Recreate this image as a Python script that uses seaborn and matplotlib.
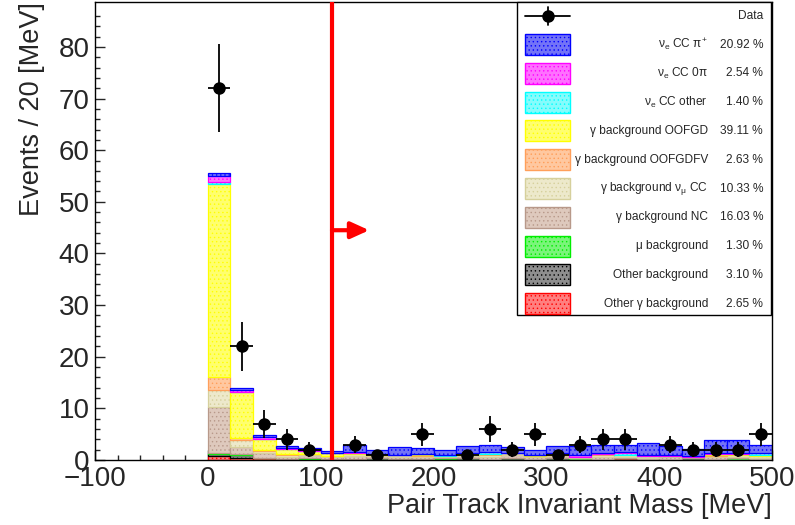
import numpy as np
import pandas as pd
import matplotlib
matplotlib.use("Agg")
import matplotlib.pyplot as plt
import matplotlib.colors as mcolors
from matplotlib.patches import Rectangle
from matplotlib.lines import Line2D
import seaborn as sns

# ---------------- data ----------------
bin_edges = np.arange(0, 520, 20)
bin_centers = bin_edges[:-1] + 10

components = [
    "ν$_{\\mathregular{e}}$ CC π$^{+}$",
    "ν$_{\\mathregular{e}}$ CC 0π",
    "ν$_{\\mathregular{e}}$ CC other",
    "γ background OOFGD",
    "γ background OOFGDFV",
    "γ background ν$_{\\mu}$ CC",
    "γ background NC",
    "μ background",
    "Other background",
    "Other γ background",
]
percents = ["20.92 %", "2.54 %", "1.40 %", "39.11 %", "2.63 %",
            "10.33 %", "16.03 %", "1.30 %", "3.10 %", "2.65 %"]

nue_cc_pip = [0.5, 0.4, 0.4, 0.3, 0.5, 0.5, 1.4, 0.7, 1.5, 1.2, 0.9, 1.3, 1.3,
              1.3, 0.9, 1.3, 1.8, 1.5, 1.4, 2.3, 1.7, 1.5, 2.5, 2.6, 1.5]
nue_cc_0pi = [1.2, 0.4, 0.35, 0.25, 0.1, 0.0, 0.2, 0.0, 0.0, 0.0, 0.0, 0.0, 0.0,
              0.0, 0.1, 0.0, 0.3, 0.2, 0.2, 0.2, 0.2, 0.2, 0.2, 0.2, 0.0]
nue_cc_other = [0.3, 0.1, 0.05, 0.05, 0.0, 0.0, 0.0, 0.0, 0.0, 0.0, 0.2, 0.1, 0.5,
                0.0, 0.0, 0.0, 0.0, 0.0, 0.3, 0.0, 0.0, 0.0, 0.0, 0.0, 0.4]
gamma_oofgd = [37.5, 8.9, 2.2, 1.0, 0.6, 0.5, 0.1, 0.2, 0.0, 0.1, 0.0, 0.2, 0.0,
               0.0, 0.2, 0.1, 0.0, 0.0, 0.1, 0.0, 0.0, 0.0, 0.2, 0.2, 0.3]
gamma_oofgdfv = [2.4, 0.3, 0.2, 0.1, 0.0, 0.0, 0.1, 0.0, 0.0, 0.2, 0.0, 0.0, 0.2,
                 0.0, 0.0, 0.3, 0.0, 0.3, 0.0, 0.0, 0.0, 0.0, 0.2, 0.0, 0.0]
gamma_numu_cc = [3.4, 1.3, 0.2, 0.4, 0.3, 0.3, 0.3, 0.2, 0.3, 0.2, 0.2, 0.3, 0.4,
                 0.3, 0.2, 0.2, 0.3, 0.3, 0.3, 0.3, 0.3, 0.0, 0.3, 0.3, 0.3]
gamma_nc = [8.9, 1.4, 1.0, 0.4, 0.5, 0.4, 0.6, 0.5, 0.5, 0.5, 0.3, 0.5, 0.5,
            0.6, 0.5, 0.4, 0.0, 0.6, 0.3, 0.4, 0.5, 0.2, 0.5, 0.3, 0.4]
mu_bkg = [0.2, 0.3, 0.05, 0.2, 0.2, 0.1, 0.2, 0.0, 0.15, 0.0, 0.15, 0.0, 0.0,
          0.0, 0.0, 0.0, 0.3, 0.0, 0.0, 0.0, 0.0, 0.0, 0.0, 0.3, 0.0]
other_bkg = [0.3, 0.6, 0.1, 0.0, 0.0, 0.0, 0.0, 0.3, 0.0, 0.0, 0.0, 0.3, 0.0,
             0.4, 0.0, 0.4, 0.0, 0.0, 0.0, 0.0, 0.0, 0.3, 0.0, 0.0, 0.0]
other_gamma_bkg = [0.8, 0.3, 0.3, 0.0, 0.2, 0.0, 0.0, 0.0, 0.0, 0.1, 0.15, 0.0, 0.0,
                   0.0, 0.0, 0.0, 0.0, 0.0, 0.3, 0.0, 0.0, 0.0, 0.0, 0.0, 0.0]

data_counts = [72, 22, 7, 4, 2, 0, 3, 1, 0, 5, 0, 1, 6, 2, 5, 1, 3, 4, 4, 0,
               3, 2, 2, 2, 5]

cut_value = 110
arrow_y = 44.5
arrow_end = 143

series = [nue_cc_pip, nue_cc_0pi, nue_cc_other, gamma_oofgd, gamma_oofgdfv,
          gamma_numu_cc, gamma_nc, mu_bkg, other_bkg, other_gamma_bkg]

line_colors = ["#0000ff", "#ff00ff", "#00ffff", "#ffff00", "#ff9f5a",
               "#d6d09c", "#b8998a", "#00ee00", "#000000", "#ff0000"]
fill_colors = ["#7373f7", "#ff70ff", "#85fcfc", "#ffff6e", "#ffc8a0",
               "#ede9cb", "#dec9bd", "#7af57a", "#8e8e8e", "#ff7f7f"]

# ---------------- style ----------------
sns.set_style("ticks")
plt.rcParams["font.family"] = ["Liberation Sans", "DejaVu Sans"]
plt.rcParams["mathtext.fontset"] = "custom"
plt.rcParams["mathtext.rm"] = "Liberation Sans"
plt.rcParams["mathtext.it"] = "Liberation Sans"
plt.rcParams["mathtext.bf"] = "Liberation Sans:bold"
plt.rcParams["hatch.linewidth"] = 0.5

fig = plt.figure(figsize=(7.95, 5.25), dpi=100)
ax = fig.add_axes([95 / 795, 65 / 525, 677 / 795, 458 / 525])

rows = []
for name, vals in zip(components, series):
    for c, v in zip(bin_centers, vals):
        rows.append({"mass": float(c), "weight": float(v), "component": name})
df = pd.DataFrame(rows)

palette = dict(zip(components, fill_colors))
sns.histplot(data=df, x="mass", weights="weight", hue="component",
             hue_order=components, multiple="stack", binwidth=20,
             binrange=(0, 500), palette=palette, alpha=1.0, linewidth=0.9,
             legend=False, ax=ax)

fill_rgba = [mcolors.to_rgba(c) for c in fill_colors]
for p in ax.patches:
    fc = p.get_facecolor()
    for i, rc in enumerate(fill_rgba):
        if np.allclose(fc[:3], rc[:3], atol=0.02):
            p.set_edgecolor(line_colors[i])
            p.set_hatch("....")
            break

# data points
dc = np.array(data_counts, dtype=float)
mask = dc > 0
ax.errorbar(bin_centers[mask], dc[mask], xerr=10, yerr=np.sqrt(dc[mask]),
            fmt="o", color="black", markersize=8, elinewidth=1.3, capsize=0,
            zorder=10)

# cut line + arrow
ax.axvline(cut_value, color="#ff0000", lw=3, zorder=11)
ax.annotate("", xy=(arrow_end, arrow_y), xytext=(cut_value, arrow_y),
            arrowprops=dict(arrowstyle="-|>,head_length=1.1,head_width=0.5",
                            color="#ff0000", lw=3, shrinkA=0, shrinkB=0),
            zorder=11)

# axes
ax.set_xlim(-100, 500)
ax.set_ylim(0, 88.7)
ax.set_xticks(np.arange(-100, 501, 100))
ax.set_xticks(np.arange(-100, 501, 20), minor=True)
ax.set_yticks(np.arange(0, 81, 10))
ax.set_yticks(np.arange(0, 88, 2), minor=True)
ax.tick_params(axis="both", which="major", direction="in", length=7,
               width=1, labelsize=20, top=False, right=False)
ax.tick_params(axis="both", which="minor", direction="in", length=3.5,
               width=1, top=False, right=False)
ax.set_xticklabels(["\u2212100", "0", "100", "200", "300", "400", "500"])
ax.tick_params(axis="x", pad=4)
ax.tick_params(axis="y", pad=4)
for s in ax.spines.values():
    s.set_linewidth(1.0)
    s.set_color("black")
    s.set_visible(True)
ax.set_xlabel("Pair Track Invariant Mass [MeV]", fontsize=19.5, loc="right",
              labelpad=1)
ax.set_ylabel("Events / 20 [MeV]", fontsize=19.5, loc="top", labelpad=10)

# legend (ROOT style, drawn manually)
def px2ax(x, y):
    return (x - 95) / 677, (460 - y) / 458

lx0, ly0 = px2ax(517, 315)
lx1, ly1 = px2ax(771, 2)
ax.add_patch(Rectangle((lx0, ly0), lx1 - lx0, ly1 - ly0, transform=ax.transAxes,
                       facecolor="white", edgecolor="black", lw=1.0, zorder=20,
                       clip_on=False))

row_y = [15.7 + 28.8 * i for i in range(11)]
# Data entry
x0, y0 = px2ax(525, row_y[0])
x1, _ = px2ax(570, row_y[0])
xm, _ = px2ax(547.5, row_y[0])
_, ya = px2ax(0, row_y[0] - 9)
_, yb = px2ax(0, row_y[0] + 9)
ax.add_line(Line2D([x0, x1], [y0, y0], transform=ax.transAxes, color="black",
                   lw=1.3, zorder=21))
ax.add_line(Line2D([xm, xm], [ya, yb], transform=ax.transAxes, color="black",
                   lw=1.3, zorder=21))
ax.add_line(Line2D([xm], [y0], transform=ax.transAxes, marker="o",
                   markersize=8, color="black", zorder=22))
tx, _ = px2ax(763, 0)
ax.text(tx, y0, "Data", transform=ax.transAxes, ha="right", va="center",
        fontsize=8.6, zorder=22)

nx, _ = px2ax(708, 0)
for i, (name, pct) in enumerate(zip(components, percents)):
    yc = row_y[i + 1]
    bx0, by0 = px2ax(525, yc + 10.5)
    bx1, by1 = px2ax(570, yc - 10.5)
    ax.add_patch(Rectangle((bx0, by0), bx1 - bx0, by1 - by0,
                           transform=ax.transAxes, facecolor=fill_colors[i],
                           edgecolor=line_colors[i], hatch="....", lw=1.0,
                           zorder=21))
    _, ty = px2ax(0, yc)
    ax.text(nx, ty, name, transform=ax.transAxes, ha="right", va="center",
            fontsize=8.6, zorder=22)
    ax.text(tx, ty, pct, transform=ax.transAxes, ha="right", va="center",
            fontsize=8.6, zorder=22)

fig.savefig("out.png", dpi=100)
